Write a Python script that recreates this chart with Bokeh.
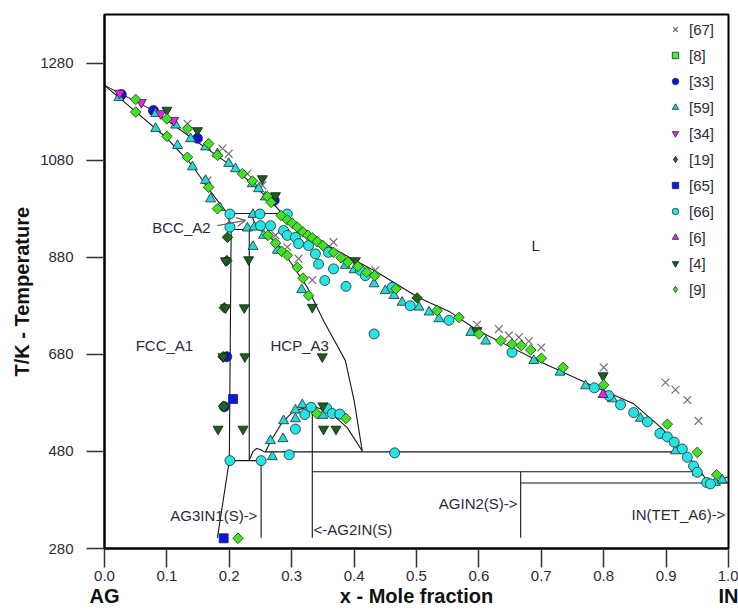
import math
from bokeh.plotting import figure
from bokeh.models import (Range1d, FixedTicker, NumeralTickFormatter, Label, Arrow, OpenHead,
                          LinearAxis, Legend, LegendItem)
from bokeh.embed import file_html
from bokeh.resources import INLINE

FONT = "Liberation Sans"
TXT = "#2a2a3c"
NAN = float("nan")

# ---------------- axis ticks ----------------
x_ticks = [0.0, 0.1, 0.2, 0.3, 0.4, 0.5, 0.6, 0.7, 0.8, 0.9, 1.0]
y_ticks = [280, 480, 680, 880, 1080, 1280]
# axis titles placed as single labelled positions
xtitle_pos = [0.0, 0.5, 1.0]
xtitle_txt = ["AG", "x - Mole fraction", "IN"]
ytitle_pos = [809]
ytitle_txt = ["T/K - Temperature"]

# ---------------- calculated phase boundaries ----------------
liq_x = [0, 0.0785, 0.138, 0.207, 0.266, 0.287, 0.362, 0.437, 0.503, 0.554, 0.598, 0.688,
         0.774, 0.848, 0.891, 0.912, 0.928, 0.944, 0.956, 0.968, 0.985, 1.0]
liq_t = [1234, 1182, 1127, 1065, 997, 966, 901, 849, 797, 767, 729, 671,
         620, 578, 530, 502, 479, 456, 438, 414, 420, 428]
sol_x = [0, 0.05, 0.10, 0.14, 0.17, 0.197]
sol_t = [1234, 1180, 1125, 1070, 1015, 970]
fcc_x = [0.197, 0.203, 0.200, 0.181]
fcc_t = [970, 937, 461, 302]
hcp_x = [0.234, 0.245, 0.262, 0.282, 0.300, 0.325, 0.351, 0.372, 0.386, 0.400, 0.413]
hcp_t = [970, 940, 925, 900, 866, 818, 749, 700, 667, 585, 481]
hcpl_x = [0.232, 0.232]
hcpl_t = [937, 462]
arc_x = [0.232, 0.238, 0.244, 0.250, 0.256]
arc_t = [462, 480, 486, 484, 479]
dome_x = [0.258, 0.266, 0.285, 0.303, 0.333, 0.362, 0.389, 0.413]
dome_t = [479, 501, 540, 563, 574, 560, 529, 481]
# horizontal invariants: start x, end x, T
hor_x0 = [0.197, 0.203, 0.200, 0.256, 0.333, 0.667]
hor_x1 = [0.284, 0.240, 0.251, 0.928, 0.956, 1.0]
hor_t = [970, 937, 461, 479, 438, 415]
# vertical compound lines: x, top T, bottom T
ver_x = [0.251, 0.333, 0.667]
ver_t0 = [461, 574, 438]
ver_t1 = [302, 302, 302]

# ---------------- experimental data ----------------
x67 = [0.133, 0.189, 0.199, 0.165, 0.229, 0.253, 0.274, 0.293, 0.311, 0.333, 0.367, 0.434,
       0.597, 0.632, 0.648, 0.664, 0.680, 0.700, 0.800, 0.899, 0.915, 0.934, 0.952]
t67 = [1155, 1104, 1093, 1038, 1052, 1028, 925, 901, 877, 833, 911, 853,
       741, 732, 719, 715, 707, 694, 653, 622, 607, 586, 543]
x8 = [NAN]   # no visible [8] point in the chart
t8 = [NAN]
x33 = [0.027, 0.0785, 0.149, 0.272, 0.196, 0.192]
t33 = [1215, 1182, 1125, 997, 675, 572]
x59 = [0.023, 0.082, 0.082, 0.114, 0.117, 0.138, 0.141, 0.162, 0.162, 0.170, 0.181, 0.185,
       0.199, 0.210, 0.237, 0.247, 0.258, 0.229, 0.238, 0.238, 0.240, 0.255, 0.277, 0.316,
       0.386, 0.400, 0.432, 0.450, 0.464, 0.477, 0.504, 0.520, 0.536, 0.587, 0.611, 0.688,
       0.730, 0.771, 0.814, 0.859, 0.915, 0.950, 0.979, 0.990, 0.317, 0.306, 0.306, 0.287,
       0.286, 0.266, 0.269, 0.350]
t59 = [1209, 1145, 1176, 1152, 1110, 1124, 1066, 1107, 1038, 1000, 1093, 982,
       1073, 1062, 1031, 1021, 1004, 940, 968, 902, 942, 925, 894, 813,
       863, 854, 825, 811, 801, 787, 777, 767, 753, 725, 707, 667,
       643, 615, 588, 548, 481, 437, 416, 421, 576, 565, 547, 543,
       506, 502, 469, 554]
x34 = [0.024, 0.059, 0.090, 0.111]
t34 = [1218, 1199, 1176, 1162]
x19 = [0.197, 0.196, 0.192, 0.190, 0.191, 0.501]
t19 = [921, 873, 776, 675, 573, 796]
x65 = [0.206, 0.191]
t65 = [588, 301]
x66 = [0.201, 0.201, 0.249, 0.250, 0.266, 0.287, 0.293, 0.293, 0.306, 0.311, 0.327, 0.338,
       0.359, 0.343, 0.367, 0.353, 0.387, 0.410, 0.418, 0.432, 0.461, 0.490, 0.201, 0.251,
       0.296, 0.306, 0.321, 0.331, 0.356, 0.365, 0.377, 0.465, 0.552, 0.653, 0.785, 0.808,
       0.827, 0.848, 0.870, 0.890, 0.902, 0.913, 0.926, 0.934, 0.944, 0.950, 0.965, 0.971]
t66 = [969, 942, 969, 945, 945, 935, 925, 969, 921, 908, 904, 887,
       890, 866, 856, 832, 820, 853, 842, 722, 818, 780, 461, 461,
       473, 526, 556, 571, 569, 558, 557, 477, 750, 684, 611, 595,
       576, 560, 541, 517, 510, 499, 485, 468, 450, 437, 416, 413]
x6 = [0.799]
t6 = [597]
x4 = [0.100, 0.149, 0.253, 0.274, 0.231, 0.194, 0.194, 0.224, 0.190, 0.225, 0.182, 0.222,
      0.349, 0.350, 0.351, 0.371, 0.333, 0.402, 0.597, 0.799]
t4 = [1183, 1141, 1042, 1007, 875, 873, 776, 776, 675, 675, 526, 526,
      675, 574, 526, 526, 777, 873, 729, 636]
x9 = [0.050, 0.050, 0.100, 0.100, 0.133, 0.133, 0.167, 0.167, 0.181, 0.181, 0.221, 0.237,
      0.261, 0.267, 0.283, 0.293, 0.301, 0.309, 0.318, 0.326, 0.333, 0.341, 0.350, 0.367,
      0.379, 0.390, 0.406, 0.420, 0.433, 0.467, 0.262, 0.274, 0.284, 0.293, 0.309, 0.318,
      0.327, 0.533, 0.568, 0.600, 0.635, 0.653, 0.668, 0.683, 0.700, 0.735, 0.800, 0.902,
      0.950, 0.981, 0.340, 0.387, 0.214]
t9 = [1205, 1179, 1165, 1129, 1145, 1086, 1114, 1024, 1090, 980, 1052, 1037,
      1005, 993, 966, 957, 950, 942, 932, 925, 920, 912, 904, 890,
      879, 870, 861, 849, 842, 815, 925, 909, 892, 884, 859, 837,
      801, 770, 756, 722, 708, 701, 698, 689, 672, 653, 617, 536,
      478, 432, 558, 548, 301]

# ---------------- text annotations ----------------
lab_text = ["BCC_A2", "FCC_A1", "HCP_A3", "L", "AG3IN1(S)->", "<-AG2IN(S)", "AGIN2(S)->", "IN(TET_A6)->"]
lab_x = [0.170, 0.050, 0.266, 0.691, 0.245, 0.335, 0.662, 0.995]
lab_t = [941, 699, 699, 904, 348, 320, 372, 350]
lab_align = ["right", "left", "left", "center", "right", "left", "right", "right"]

p = figure(width=738, height=610, output_backend="svg", toolbar_location=None,
           x_range=Range1d(0, 1), y_range=Range1d(280, 1380),
           min_border_left=104, min_border_right=10, min_border_top=14, min_border_bottom=62)
p.background_fill_color = "white"
p.border_fill_color = "white"
p.outline_line_color = "black"
p.outline_line_width = 2
p.xgrid.visible = False
p.ygrid.visible = False

p.xaxis.ticker = FixedTicker(ticks=x_ticks)
p.xaxis.formatter = NumeralTickFormatter(format="0.0")
p.yaxis.ticker = FixedTicker(ticks=y_ticks)
for ax in (p.xaxis[0], p.yaxis[0]):
    ax.axis_line_width = 2
    ax.axis_line_color = "black"
    ax.major_tick_in = 0
    ax.minor_tick_in = 0
    ax.minor_tick_out = 0
    ax.major_tick_line_color = "#333333"
    ax.major_tick_line_width = 1.5
    ax.major_label_text_font = FONT
    ax.major_label_text_font_size = "15px"
    ax.major_label_text_color = TXT
p.xaxis.major_tick_out = 19
p.xaxis.major_label_standoff = 3
p.yaxis.major_tick_out = 18
p.yaxis.major_label_standoff = 13

# title axes (text only)
xt = LinearAxis(ticker=FixedTicker(ticks=xtitle_pos),
                major_label_overrides={k: v for k, v in zip(xtitle_pos, xtitle_txt)})
yt = LinearAxis(ticker=FixedTicker(ticks=ytitle_pos),
                major_label_overrides={k: v for k, v in zip(ytitle_pos, ytitle_txt)},
                major_label_orientation="vertical")
for ax in (xt, yt):
    ax.axis_line_alpha = 0
    ax.major_tick_out = 0
    ax.major_tick_in = 0
    ax.minor_tick_out = 0
    ax.minor_tick_in = 0
    ax.major_label_text_font = FONT
    ax.major_label_text_font_style = "bold"
    ax.major_label_text_font_size = "20px"
    ax.major_label_text_color = "#111111"
xt.major_label_standoff = 1
yt.major_label_standoff = 4
p.add_layout(xt, "below")
p.add_layout(yt, "left")

LC = "#151515"
for xs, ts in [(liq_x, liq_t), (sol_x, sol_t), (fcc_x, fcc_t), (hcp_x, hcp_t),
               (hcpl_x, hcpl_t), (arc_x, arc_t), (dome_x, dome_t)]:
    p.line(xs, ts, line_color=LC, line_width=1.1)
p.segment(x0=hor_x0, y0=hor_t, x1=hor_x1, y1=hor_t, line_color=LC, line_width=1.1)
p.segment(x0=ver_x, y0=ver_t0, x1=ver_x, y1=ver_t1, line_color=LC, line_width=1.1)

OL = "#1c2a2a"
DIA = math.pi / 4
series = [
    ("[67]", x67, t67, "x", None, "#707070", 11, 1.2, 0),
    ("[8]", x8, t8, "square", "#44ee44", OL, 9, 0.8, 0),
    ("[33]", x33, t33, "circle", "#1010dd", OL, 10, 0.8, 0),
    ("[59]", x59, t59, "triangle", "#22d8d8", OL, 10, 0.8, 0),
    ("[34]", x34, t34, "inverted_triangle", "#ee22ee", OL, 10, 0.8, 0),
    ("[19]", x19, t19, "square", "#1a6b1a", "#0c200c", 7.5, 0.8, DIA),
    ("[65]", x65, t65, "square", "#0a14f0", OL, 9, 0.8, 0),
    ("[66]", x66, t66, "circle", "#26e4e4", OL, 10, 0.8, 0),
    ("[6]", x6, t6, "triangle", "#ee22ee", OL, 10, 0.8, 0),
    ("[4]", x4, t4, "inverted_triangle", "#1e5e1e", "#0c200c", 10, 0.8, 0),
    ("[9]", x9, t9, "square", "#44e022", "#1c3a1c", 7.5, 0.8, DIA),
]
items = []
for name, xs, ts, mk, fc, lc, sz, lw, ang in series:
    kw = dict(marker=mk, size=sz, line_color=lc, line_width=lw)
    if fc is None:
        kw["fill_alpha"] = 0
    else:
        kw["fill_color"] = fc
    r = p.scatter(xs, ts, angle=ang, **kw)
    if ang:
        # legend swatch drawn as a diamond (legend swatches ignore rotation)
        kw["marker"] = "diamond"
        kw["size"] = 12
        r = p.scatter([NAN], [NAN], **kw)
    items.append(LegendItem(label=name, renderers=[r]))

leg = Legend(items=items, location=(563, 249))
leg.glyph_width = 16
leg.glyph_height = 20
leg.label_height = 20
leg.spacing = 6
leg.padding = 0
leg.margin = 0
leg.label_standoff = 6
leg.border_line_alpha = 0
leg.background_fill_alpha = 0
leg.label_text_font = FONT
leg.label_text_font_size = "15px"
leg.label_text_color = TXT
p.add_layout(leg)

for t, xx, tt, al in zip(lab_text, lab_x, lab_t, lab_align):
    p.add_layout(Label(x=xx, y=tt, text=t, text_align=al, text_baseline="middle",
                       text_font=FONT, text_font_size="15px", text_color=TXT))

p.add_layout(Arrow(end=OpenHead(size=9, line_color="#666666", line_width=1.2),
                   x_start=0.181, y_start=945, x_end=0.226, y_end=956,
                   line_color="#666666", line_width=1.2))

open("out.html", "w").write(file_html(p, INLINE))
